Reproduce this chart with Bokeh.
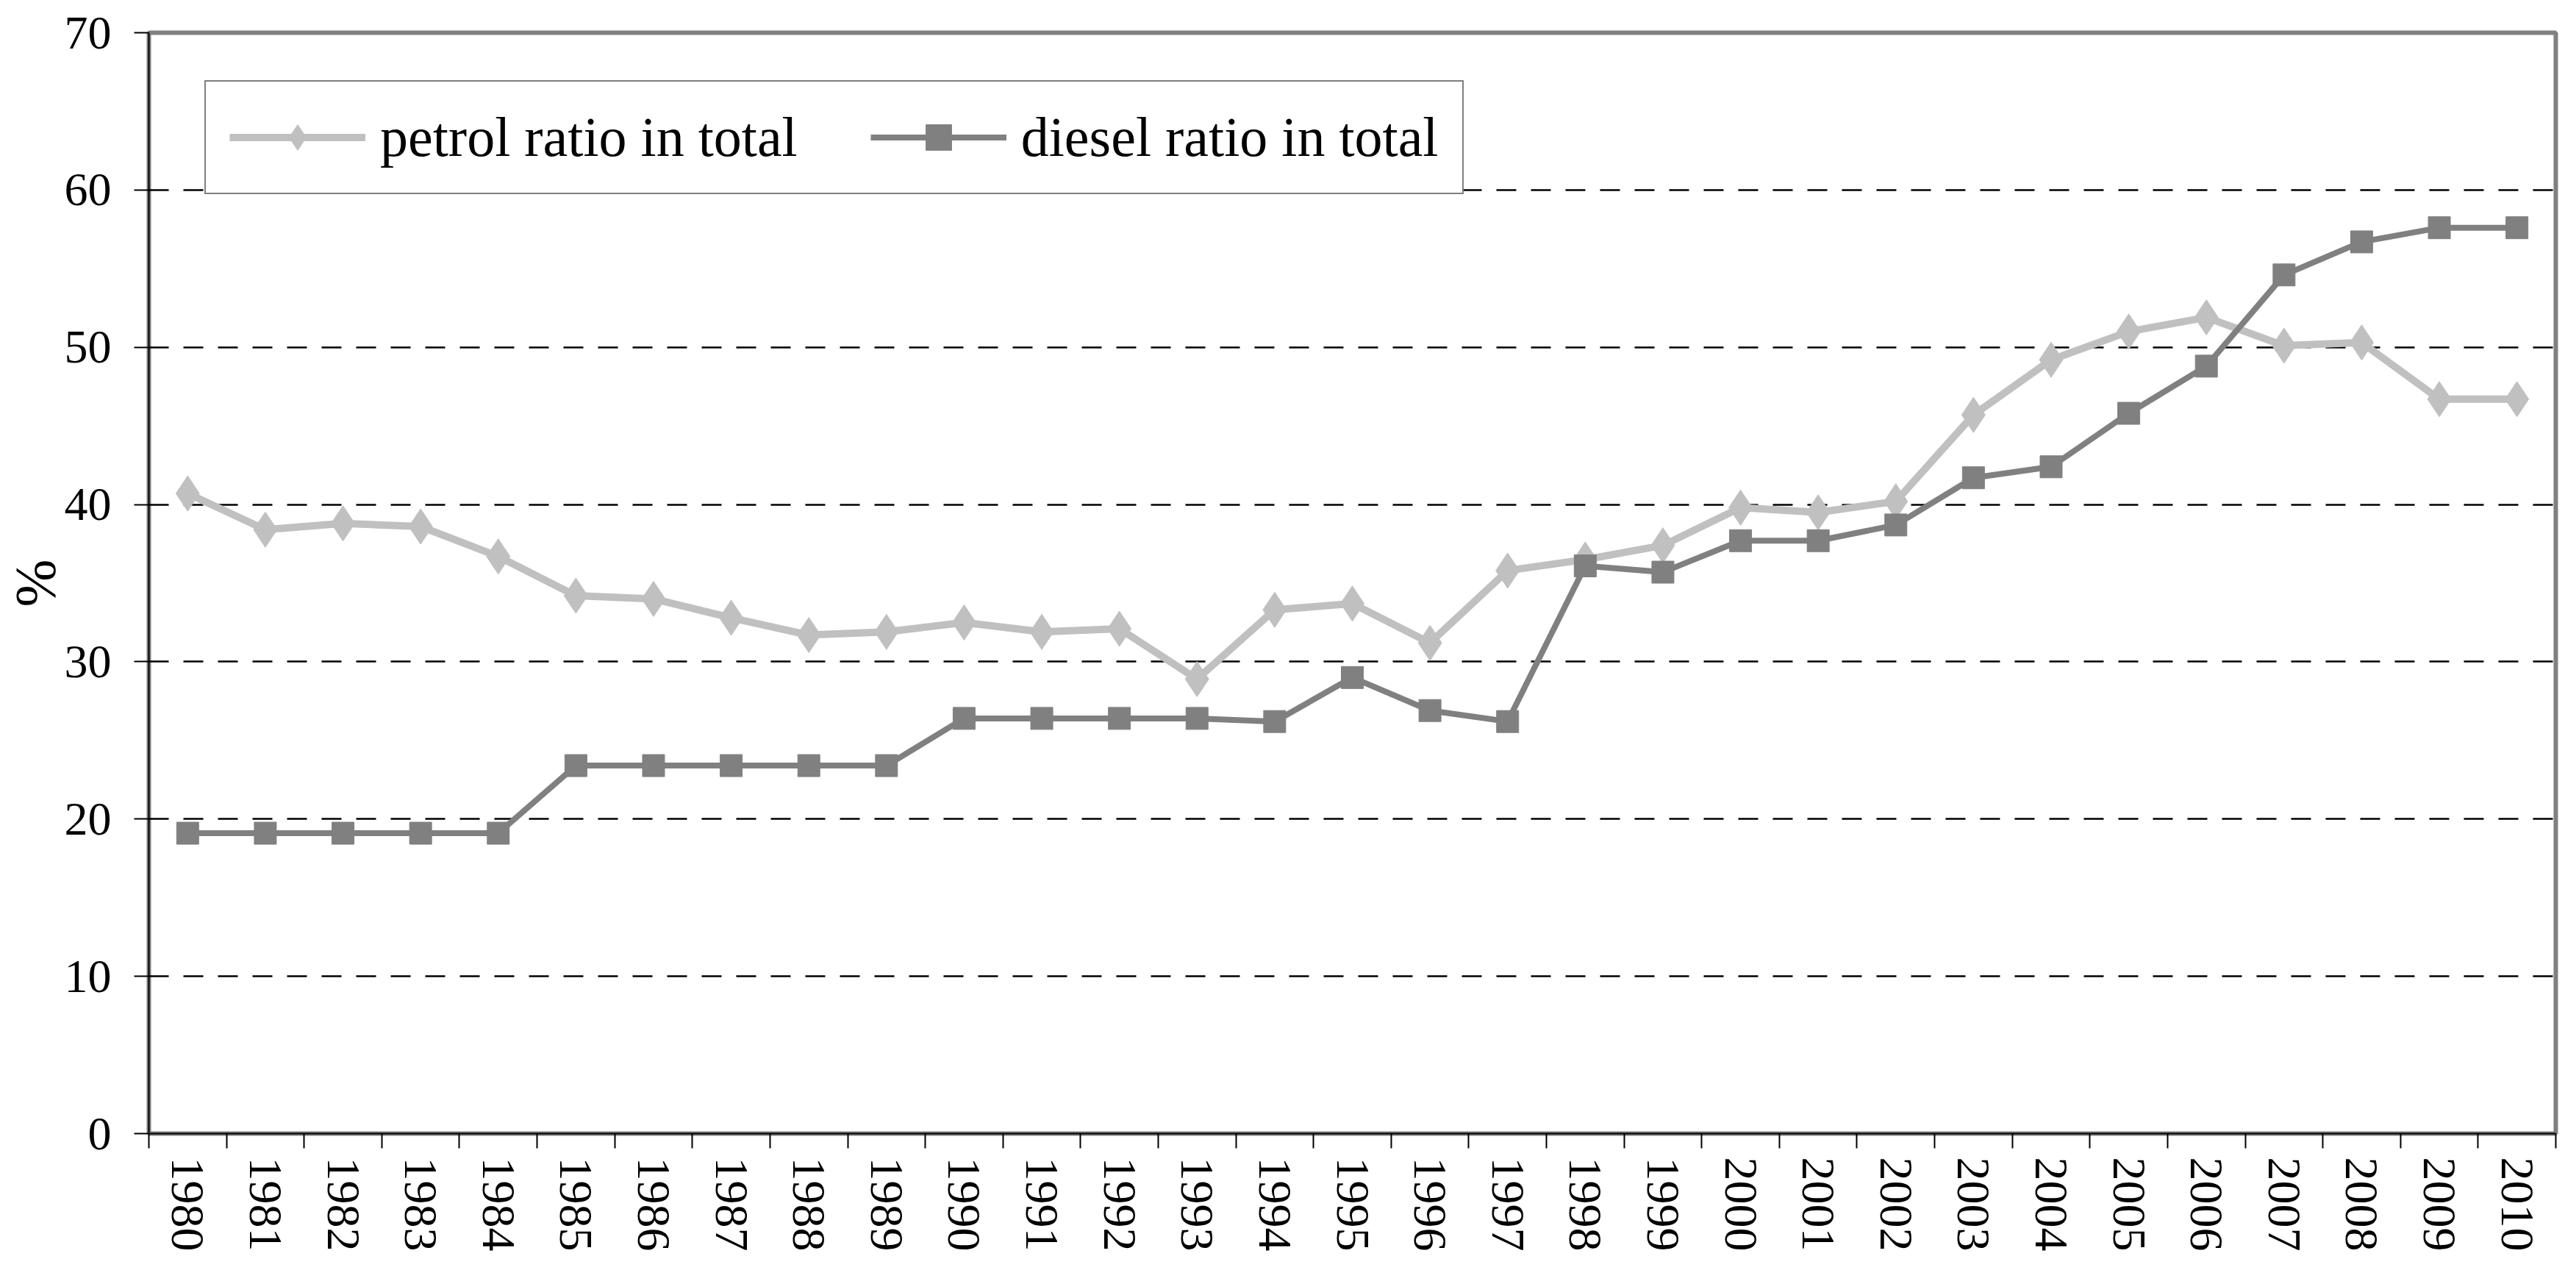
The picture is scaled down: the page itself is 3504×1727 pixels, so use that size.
from bokeh.plotting import figure
from bokeh.models import Range1d, FixedTicker
from bokeh.embed import file_html
from bokeh.resources import INLINE

years = list(range(1980, 2011))
petrol = [40.7, 38.4, 38.8, 38.6, 36.7, 34.2, 34.0, 32.8, 31.7, 31.9,
          32.5, 31.9, 32.1, 28.9, 33.3, 33.7, 31.2, 35.8, 36.5, 37.4,
          39.8, 39.5, 40.2, 45.7, 49.2, 51.0, 51.9, 50.1, 50.3, 46.7, 46.7]
diesel = [19.1, 19.1, 19.1, 19.1, 19.1, 23.4, 23.4, 23.4, 23.4, 23.4,
          26.4, 26.4, 26.4, 26.4, 26.2, 29.0, 26.9, 26.2, 36.1, 35.7,
          37.7, 37.7, 38.7, 41.7, 42.4, 45.8, 48.8, 54.6, 56.7, 57.6, 57.6]
y_ticks = [0, 10, 20, 30, 40, 50, 60, 70]
grid_ticks = [10, 20, 30, 40, 50, 60]
petrol_label = "petrol ratio in total"
diesel_label = "diesel ratio in total"
y_label = "%"

FONT = "Liberation Serif"
PETROL_C = "#C0C0C0"
DIESEL_C = "#808080"

p = figure(width=3488, height=1711,
           x_range=Range1d(years[0] - 0.5, years[-1] + 0.5),
           y_range=Range1d(0, 70),
           output_backend="svg", toolbar_location=None,
           min_border_left=192, min_border_right=12,
           min_border_top=44, min_border_bottom=170)
p.background_fill_color = "white"
p.border_fill_color = "white"
p.outline_line_color = "#808080"
p.outline_line_width = 6

# lines
p.line(years, petrol, line_color=PETROL_C, line_width=10, legend_label=petrol_label)
p.scatter(years, petrol, marker="diamond", size=48, fill_color=PETROL_C,
          line_color=PETROL_C, legend_label=petrol_label)
p.line(years, diesel, line_color=DIESEL_C, line_width=8, legend_label=diesel_label)
p.scatter(years, diesel, marker="square", size=30, fill_color=DIESEL_C,
          line_color=DIESEL_C, legend_label=diesel_label)

# grid
p.xgrid.visible = False
p.ygrid.ticker = FixedTicker(ticks=grid_ticks)
p.ygrid.grid_line_color = "black"
p.ygrid.grid_line_width = 2.5
p.ygrid.grid_line_dash = "27 20"

# y axis
ya = p.yaxis[0]
ya.ticker = FixedTicker(ticks=y_ticks)
ya.axis_line_color = "black"
ya.axis_line_width = 2
ya.major_tick_line_color = "black"
ya.major_tick_line_width = 2
ya.major_tick_out = 20
ya.major_tick_in = 0
ya.minor_tick_line_color = None
ya.major_label_text_font = FONT
ya.major_label_text_font_size = "64px"
ya.major_label_text_color = "black"
ya.major_label_standoff = 31
ya.axis_label = y_label
ya.axis_label_text_font = FONT
ya.axis_label_text_font_size = "78px"
ya.axis_label_text_font_style = "normal"
ya.axis_label_text_color = "black"
ya.axis_label_standoff = -6

# x axis: labels at year centres, ticks at boundaries
xa = p.xaxis[0]
xa.ticker = FixedTicker(ticks=years, minor_ticks=[y - 0.5 for y in years] + [years[-1] + 0.5])
xa.axis_line_color = "black"
xa.axis_line_width = 2
xa.major_tick_out = 0
xa.major_tick_in = 0
xa.minor_tick_out = 20
xa.minor_tick_in = 0
xa.minor_tick_line_color = "black"
xa.minor_tick_line_width = 2
xa.major_label_orientation = "vertical"
xa.major_label_text_font = FONT
xa.major_label_text_font_size = "64px"
xa.major_label_text_color = "black"
xa.major_label_standoff = 12

# legend
leg = p.legend[0]
leg.orientation = "horizontal"
leg.location = (76, 1277)
leg.margin = 0
leg.padding = 32
leg.spacing = 99
leg.glyph_width = 185
leg.glyph_height = 87
leg.label_height = 50
leg.label_standoff = 20
leg.label_text_font = FONT
leg.label_text_font_size = "76px"
leg.label_text_color = "black"
leg.border_line_color = "black"
leg.border_line_width = 2
leg.background_fill_color = "white"
leg.background_fill_alpha = 1

open("out.html", "w").write(file_html(p, INLINE))
